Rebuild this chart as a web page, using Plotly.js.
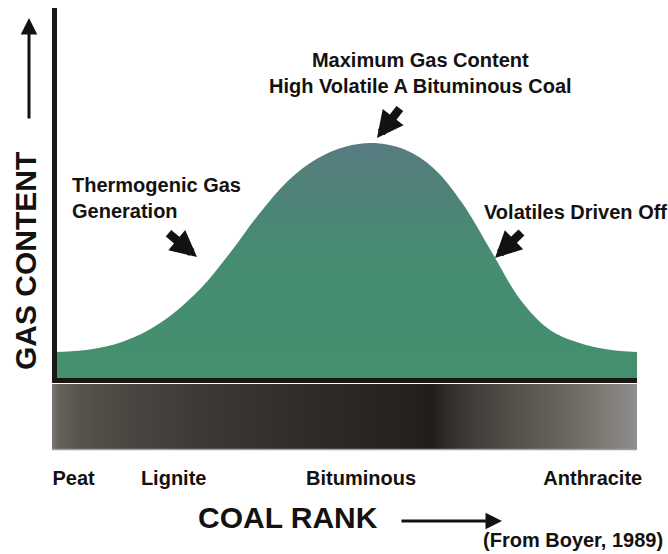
<!DOCTYPE html>
<html>
<head>
<meta charset="utf-8">
<script src="https://cdn.plot.ly/plotly-3.0.1.min.js"></script>
<style>html,body{margin:0;padding:0;background:#fff;}#chart{width:668px;height:554px;}</style>
</head>
<body>
<div id="chart"></div>
<script>
// Gas content curve (coal rank position 0-100, relative gas content)
const rankX = [0, 5, 10, 15, 20, 25, 30, 35, 40, 45, 50, 55, 60, 65, 70, 75, 80, 85, 90, 95, 100];
const gasContent = [7.5, 8.0, 9.5, 12.5, 17.5, 24.5, 34, 44.5, 53.5, 59.5, 62.8, 63.7, 62, 57, 47.5, 34.5, 21.5, 13.5, 10, 8.2, 7.5];

// Coal rank shading bar (grey level along rank axis)
const shadePos = [-0.5, 0.5, 4.3, 11.2, 18, 24.9, 33.5, 42.1, 50.7, 59.3, 63.6, 64.8, 67, 71.3, 76.5, 85.1, 93.6, 100];
const shadeLevel = [122, 102, 88, 78, 70, 62, 55, 48, 42, 36, 32, 30, 45, 65, 80, 100, 125, 145];

// Rank labels
const rankLabels = ['Peat', 'Lignite', 'Bituminous', 'Anthracite'];
const rankLabelPos = [3.2, 20.4, 52.6, 92.4];

const FONT = 'Liberation Sans, Arial, Helvetica, sans-serif';
const INK = '#141210';

// pixel -> paper helpers (plot area: x 52..637, y 8..450)
const PX = px => (px - 52) / 585;
const PY = py => (450 - py) / 442;

const curve = {
  type: 'scatter', mode: 'lines', x: rankX, y: gasContent,
  xaxis: 'x', yaxis: 'y',
  line: {shape: 'spline', smoothing: 1, width: 0, color: 'rgba(0,0,0,0)'},
  fill: 'tozeroy',
  fillgradient: {
    type: 'vertical', start: 0, stop: 64,
    colorscale: [[0, '#43906e'], [0.5, '#468c71'], [0.78, '#4e8379'], [1, '#597b81']]
  },
  hoverinfo: 'skip', showlegend: false
};

const bar = {
  type: 'heatmap', x: shadePos, y: [0, 1], z: [shadeLevel, shadeLevel],
  xaxis: 'x', yaxis: 'y2', zsmooth: 'best', showscale: false,
  zmin: 0, zmax: 255,
  colorscale: [[0, '#000000'], [0.12, '#221d1a'], [0.3, '#4b4641'], [0.47, '#77746c'], [0.57, '#908e8f'], [1, '#ffffff']],
  hoverinfo: 'skip'
};

const ann = [];
function txt(text, x, y, size, xanchor, yanchor, extra) {
  ann.push(Object.assign({text: text, xref: 'paper', yref: 'paper', x: PX(x), y: PY(y),
    xanchor: xanchor, yanchor: yanchor, showarrow: false,
    font: {family: FONT, size: size, color: INK, weight: 'bold'}}, extra || {}));
}
function arrow(tipX, tipY, ax, ay, w, size, head) {
  ann.push({text: '', xref: 'paper', yref: 'paper', x: PX(tipX), y: PY(tipY),
    ax: ax, ay: ay, showarrow: true, arrowhead: head, arrowsize: size, arrowwidth: w,
    arrowcolor: INK, standoff: 0});
}

txt('GAS CONTENT', 25, 261, 30, 'center', 'middle', {textangle: -90});
txt('COAL RANK', 196, 517, 30, 'left', 'middle');
txt('(From Boyer, 1989)', 481, 540, 20, 'left', 'middle');
txt('Maximum Gas Content<br>High Volatile A Bituminous Coal', 420, 73, 20, 'center', 'middle', {align: 'center'});
txt('Thermogenic Gas<br>Generation', 70, 198, 20, 'left', 'middle', {align: 'left'});
txt('Volatiles Driven Off', 482, 211.5, 20, 'left', 'middle');

arrow(29, 18, 0, 102, 3, 1.1, 2);
arrow(502, 521, -102, 0, 3, 1.1, 2);
arrow(377, 138, 24, -31, 8.5, 0.62, 2);
arrow(197, 257, -30, -25, 8.5, 0.62, 2);
arrow(495, 258, 28, -27, 8.5, 0.62, 2);

const layout = {
  width: 668, height: 554,
  margin: {l: 52, r: 31, t: 8, b: 104, pad: 0},
  paper_bgcolor: '#ffffff', plot_bgcolor: '#ffffff',
  showlegend: false,
  xaxis: {
    range: [-0.5, 100], anchor: 'y2', showgrid: false, zeroline: false, showline: false,
    tickmode: 'array', tickvals: rankLabelPos, ticktext: rankLabels, ticks: '',
    ticklabelstandoff: 14,
    tickfont: {family: FONT, size: 20, color: INK, weight: 'bold'}
  },
  yaxis: {domain: [PY(380), 1], range: [0, 100], visible: false, fixedrange: true},
  yaxis2: {domain: [0, PY(384)], range: [-0.5, 1.5], visible: false, fixedrange: true},
  shapes: [
    {type: 'line', xref: 'paper', yref: 'paper', x0: PX(54.5), x1: PX(54.5), y0: PY(383), y1: PY(8),
     line: {color: '#1a1613', width: 5}},
    {type: 'line', xref: 'paper', yref: 'paper', x0: PX(52), x1: PX(637), y0: PY(380.5), y1: PY(380.5),
     line: {color: '#1a1613', width: 5}},
    {type: 'line', xref: 'paper', yref: 'paper', x0: PX(52), x1: PX(637), y0: PY(449.5), y1: PY(449.5),
     line: {color: '#a09e9c', width: 1.5}}
  ],
  annotations: ann
};

Plotly.newPlot('chart', [bar, curve], layout, {staticPlot: true, displayModeBar: false});
</script>
</body>
</html>
